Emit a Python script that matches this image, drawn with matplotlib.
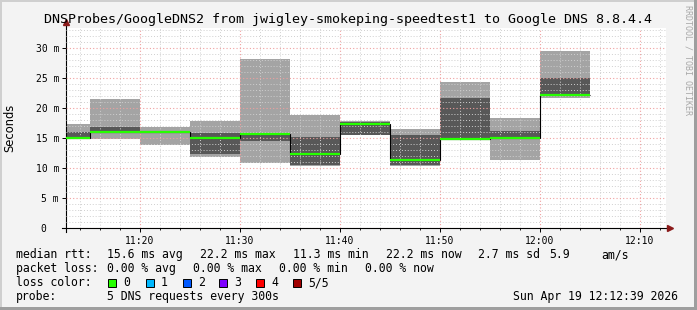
import numpy as np
import matplotlib
matplotlib.use("Agg")
import matplotlib.pyplot as plt
from matplotlib.patches import Rectangle

# 5-minute samples, stamped at the end of each interval
sample_end = ["11:15", "11:20", "11:25", "11:30", "11:35", "11:40",
              "11:45", "11:50", "11:55", "12:00", "12:05"]
# sorted ping times (ms): min, 2nd, median, 4th, max
ping_min = [14.85, 14.9, 13.9, 11.9, 10.8, 10.4, 15.45, 10.4, 14.8, 11.3, 21.6]
ping_2 = [14.9, 15.9, 15.9, 12.3, 14.55, 10.5, 15.5, 10.5, 14.85, 14.95, 22.0]
median_rtt = [15.0, 16.0, 16.0, 15.0, 15.6, 12.3, 17.35, 11.3, 14.9, 15.05, 22.2]
ping_4 = [16.05, 16.9, 16.1, 15.9, 15.75, 15.2, 17.6, 15.5, 21.6, 16.2, 25.05]
ping_max = [17.4, 21.5, 16.9, 17.9, 28.2, 18.8, 17.8, 16.5, 24.4, 18.4, 29.55]

window = ("11:12:39", "12:12:39")
tick_times = ["11:20", "11:30", "11:40", "11:50", "12:00", "12:10"]
y_ticks = [0, 5, 10, 15, 20, 25, 30]

loss_labels = ["0", "1", "2", "3", "4", "5/5"]
loss_colors = ["#26ff00", "#00b8ff", "#0059ff", "#7e00ff", "#ff0000", "#a00000"]

title = "DNSProbes/GoogleDNS2 from jwigley-smokeping-speedtest1 to Google DNS 8.8.4.4"
stamp = "Sun Apr 19 12:12:39 2026"


def to_min(s):
    parts = [int(p) for p in s.split(":")]
    while len(parts) < 3:
        parts.append(0)
    return parts[0] * 60 + parts[1] + parts[2] / 60.0


W, H = 697, 310
MONO = "DejaVu Sans Mono"
plt.rcParams["font.family"] = MONO

fig = plt.figure(figsize=(W / 100, H / 100), dpi=100, facecolor="#f3f3f3")
ax = fig.add_axes([66 / W, 82 / H, 600 / W, 200 / H])
ax.set_facecolor("white")

ends = np.array([to_min(t) for t in sample_end])
starts = ends - 5
lo, p2, med, p4, hi = (np.array(a) for a in (ping_min, ping_2, median_rtt, ping_4, ping_max))

# smoke
ax.bar(starts, hi - lo, bottom=lo, width=5, align="edge", color="#a4a4a4", lw=0, zorder=1)
ax.bar(starts, p4 - p2, bottom=p2, width=5, align="edge", color="#585858", lw=0, zorder=1.1)

# median: black steps + loss-coloured level
edges = np.concatenate([[starts[0]], ends])
ax.stairs(med, edges, baseline=None, color="black", lw=0.8, zorder=3)
ax.hlines(med, starts, ends, color=loss_colors[0], lw=1.6, zorder=3.5)

ax.set_xlim(to_min(window[0]), to_min(window[1]))
ax.set_ylim(0, 33.33)

ax.set_xticks([to_min(t) for t in tick_times])
ax.set_xticklabels(tick_times)
ax.set_xticks(np.arange(to_min("11:14"), to_min("12:13"), 2), minor=True)
ax.set_yticks(y_ticks)
# rrdtool pads the unitless zero label, so it sits further left
ax.set_yticklabels([f"{v} m" if v else "0\u2007\u2007" for v in y_ticks])
ax.set_yticks(np.arange(0, 34, 1), minor=True)

ax.tick_params(axis="both", which="major", labelsize=7, length=3, width=0.7, pad=2,
               colors="black")
ax.tick_params(axis="x", which="major", pad=3)
ax.tick_params(axis="x", which="minor", length=1.5, width=0.6)
ax.tick_params(axis="y", which="minor", length=0)

ax.set_axisbelow(False)
ax.grid(which="minor", color="#cfcfcf", lw=0.7, linestyle=(0, (1, 2)))
ax.grid(which="major", color="#f0a0a0", lw=0.8, linestyle=(0, (1, 2)))

for sp in ax.spines.values():
    sp.set_visible(False)
ax.plot([0, 0], [-0.02, 1.03], transform=ax.transAxes, clip_on=False, color="black", lw=0.8)
ax.plot([-0.007, 1.007], [0, 0], transform=ax.transAxes, clip_on=False, color="black", lw=0.8)
ax.plot(0, 1.03, marker="^", ms=4, color="#8b1a1a", transform=ax.transAxes, clip_on=False)
ax.plot(1.007, 0, marker=">", ms=4, color="#8b1a1a", transform=ax.transAxes, clip_on=False)


def ftext(x, y, s, **kw):
    fig.text(x / W, 1 - y / H, s, **kw)


ftext(348, 23.5, title, ha="center", va="baseline", size=9.6)
ftext(10, 128, "Seconds", rotation=90, ha="center", va="center", size=8.3, family="DejaVu Sans")
ftext(688, 60, "RRDTOOL / TOBI OETIKER", rotation=270, ha="center", va="center",
      size=6, color="#a8a8a8")

legend_rows = [
    (258.3, [(16, "median rtt:"), (107.3, "15.6 ms avg"), (200, "22.2 ms max"),
             (293.3, "11.3 ms min"), (385.7, "22.2 ms now"), (478.3, "2.7 ms sd"),
             (549, "5.9"), (601.7, "am/s")]),
    (272.3, [(16, "packet loss:"), (107.3, "0.00 % avg"), (193.3, "0.00 % max"),
             (279.3, "0.00 % min"), (365, "0.00 % now")]),
    (286.3, [(16, "loss color:")]),
    (299.7, [(16, "probe:"), (107.3, "5 DNS requests every 300s"), (512.7, stamp)]),
]
for y, items in legend_rows:
    for x, s in items:
        ftext(x, y, s, ha="left", va="baseline", size=8.3)

box_x = [108.3, 145.7, 182.7, 219.3, 256.3, 293.3]
for bx, lab, col in zip(box_x, loss_labels, loss_colors):
    fig.add_artist(Rectangle((bx / W, 1 - 286.7 / H), 8 / W, 8 / H,
                             transform=fig.transFigure, facecolor=col,
                             edgecolor="black", lw=0.7))
    ftext(bx + 15, 286.3, lab, ha="left", va="baseline", size=8.3)

# 3d frame
fig.add_artist(Rectangle((0, 0), 2 / W, 1, transform=fig.transFigure, color="#cfcfcf", lw=0))
fig.add_artist(Rectangle((0, 1 - 2 / H), 1, 2 / H, transform=fig.transFigure, color="#cfcfcf", lw=0))
fig.add_artist(Rectangle((1 - 3 / W, 0), 3 / W, 1, transform=fig.transFigure, color="#9e9e9e", lw=0))
fig.add_artist(Rectangle((0, 0), 1, 3 / H, transform=fig.transFigure, color="#9e9e9e", lw=0))

fig.savefig("out.png", dpi=100, facecolor=fig.get_facecolor())
